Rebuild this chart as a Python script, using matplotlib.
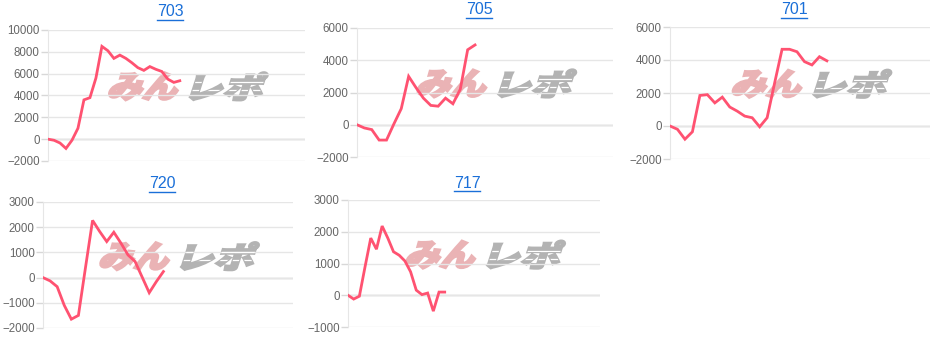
import math
import matplotlib
matplotlib.use('Agg')
import matplotlib.pyplot as plt
from matplotlib.textpath import TextPath
from matplotlib.patches import PathPatch
from matplotlib.font_manager import FontProperties
from matplotlib.lines import Line2D
import matplotlib.transforms as mtransforms

# データ
titles = ['703', '705', '701', '720', '717']
v703 = [0, -100, -350, -850, -100, 1000, 3600, 3800, 5600, 8500, 8100, 7400,
        7700, 7400, 7000, 6550, 6300, 6650, 6400, 6200, 5500, 5200, 5350]
v705 = [0, -200, -300, -950, -950, 50, 1000, 3000, 2300, 1650, 1200, 1150,
        1650, 1300, 2200, 4650, 4950]
v701 = [0, -200, -800, -350, 1850, 1900, 1400, 1750, 1150, 900, 600, 500,
        -50, 500, 2600, 4650, 4650, 4500, 3900, 3700, 4200, 3950]
v720 = [0, -130, -360, -1100, -1650, -1500, 400, 2270, 1830, 1430, 1800, 1370,
        900, 640, 20, -600, -160, 240]
v717 = [0, -120, -30, 900, 1800, 1450, 2180, 1800, 1370, 1260, 1080, 740,
        160, 20, 70, -500, 100, 100]
series = [v703, v705, v701, v720, v717]

# 軸の範囲・目盛り
y_ranges = [(-2000, 10000, 2000), (-2000, 6000, 2000), (-2000, 6000, 2000),
            (-2000, 3000, 1000), (-1000, 3000, 1000)]
x_slots = [42.9, 34.7, 34.8, 35.3, 44.3]

# 配置 (ピクセル: 左, 上, 右, 下)
W, H = 939, 337
boxes = [(48, 30, 305, 161), (357, 28, 613, 157), (670, 27, 930, 159),
         (43, 202, 293, 328), (348, 200, 600, 327)]
title_pos = [(170, 12), (479, 10), (794, 10), (162, 184), (467, 183)]

LINE = '#ff5271'
TICK_C = '#666666'

fig = plt.figure(figsize=(W / 100, H / 100), dpi=100)
fp_logo = FontProperties(family='Noto Sans CJK JP', weight='black')


def logo_trans(ax, tr):
    return (tr.scale(1 / 100) + fig.dpi_scale_trans
            + mtransforms.ScaledTranslation(0.54, 0.57, ax.transAxes))


def add_logo(ax, text, color, x0, w, h, skew=18, stripes=False):
    # ロゴ(透かし)を斜体風に描画
    path = TextPath((0, 0), text, size=10, prop=fp_logo)
    bb = path.get_extents()
    shift = h * math.tan(math.radians(skew))
    tr = (mtransforms.Affine2D()
          .translate(-bb.x0, -bb.y0)
          .scale((w - shift) / bb.width, h / bb.height)
          .skew_deg(skew, 0)
          .translate(x0, -h / 2))
    patch = PathPatch(path, transform=logo_trans(ax, tr), facecolor=color,
                      edgecolor=color, lw=1.6, zorder=1.5)
    ax.add_artist(patch)
    if stripes:
        for yy in (-4, 4):
            ln = Line2D([x0 - 5, x0 + w + 5], [yy, yy], color='white', lw=0.9,
                        transform=logo_trans(ax, mtransforms.Affine2D()),
                        zorder=1.6)
            ln.set_clip_path(patch)
            ax.add_artist(ln)


for i, vals in enumerate(series):
    l, t, r, b = boxes[i]
    ax = fig.add_axes([l / W, (H - b) / H, (r - l) / W, (b - t) / H])
    lo, hi, step = y_ranges[i]
    x = list(range(len(vals)))
    ax.plot(x, vals, color=LINE, lw=2.0, zorder=3, solid_joinstyle='miter')
    ax.set_xlim(0, x_slots[i])
    ax.set_ylim(lo, hi)
    ax.set_yticks(range(lo, hi + 1, step))
    ax.set_xticks([])
    ax.grid(axis='y', color='#e6e6e6', lw=1.0, zorder=0)
    ax.axhline(0, color='#c4c4c4', lw=1.0, zorder=1)
    for s in ['top', 'right', 'bottom']:
        ax.spines[s].set_visible(False)
    ax.spines['left'].set_color('#e6e6e6')
    ax.tick_params(axis='y', length=5, width=1.0, color='#d8d8d8', pad=1,
                   labelsize=8.3, labelcolor=TICK_C)
    for lab in ax.get_yticklabels():
        lab.set_fontfamily('Liberation Sans')

    add_logo(ax, 'みん', '#eab3b5', -80, 77, 28)
    add_logo(ax, 'レポ', '#b3b3b3', 2, 80, 28, stripes=True)

    tx, ty = title_pos[i]
    fig.text(tx / W, (H - ty) / H, titles[i], ha='center', va='center',
             fontsize=11.5, color='#1a6fd8', family='Liberation Sans')
    # 下線
    fig.add_artist(Line2D([(tx - 13) / W, (tx + 13) / W],
                          [(H - ty - 8) / H, (H - ty - 8) / H],
                          color='#1a6fd8', lw=1.0))

fig.savefig('out.png', dpi=100)
